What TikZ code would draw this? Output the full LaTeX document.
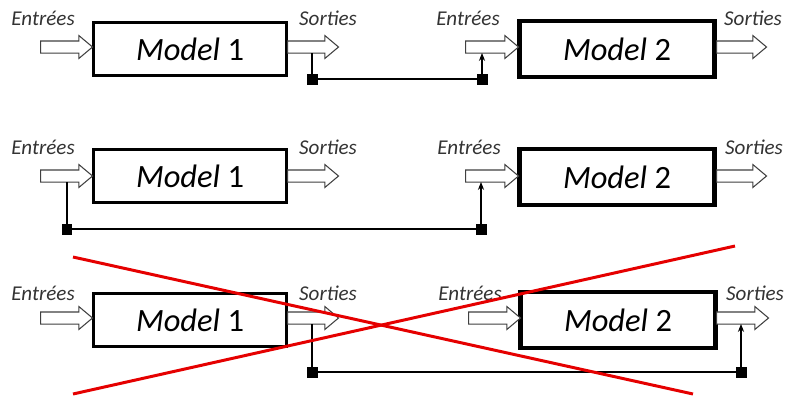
\documentclass[tikz,border=0pt]{standalone}
\usepackage{fontspec}
\setmainfont{Carlito}
\usetikzlibrary{shapes.arrows,arrows.meta}

\tikzset{
  modelbox/.style={draw, line width=1.9pt, minimum width=3.86cm, minimum height=1.06cm, inner sep=0pt,
    font=\fontsize{18.5}{21}\selectfont},
  modelboxb/.style={modelbox, line width=2.4pt, minimum width=3.9cm, minimum height=1.12cm},
  fatarrow/.style={single arrow, draw=black!75, fill=white, line width=0.6pt, minimum height=#1,
    inner xsep=0pt, inner ysep=0.11cm, single arrow head extend=0.11cm, single arrow tip angle=80,
    anchor=tail},
  lbl/.style={font=\fontsize{12}{14}\selectfont\itshape, text=black!80, inner sep=0pt},
  sq/.style={fill=black, minimum size=0.22cm, inner sep=0pt},
  link/.style={line width=0.6pt},
  uplink/.style={line width=0.6pt, -{Stealth[length=4.5pt,width=3.5pt]}}
}

\begin{document}
\begin{tikzpicture}[x=0.02cm, y=-0.02cm]
  \useasboundingbox (0,0) rectangle (785,397);

  % Row 1 : Sorties of model 1 go to Entrees of model 2
  \node[modelbox] (ma) at (190,49) {\textit{Model} 1};
  \node[modelboxb] (mb) at (617,49) {\textit{Model} 2};
  \node[fatarrow=1.04cm] (ina) at (40,47) {};
  \node[fatarrow=1.02cm] (outa) at (287,47) {};
  \node[fatarrow=1.06cm] (inb) at (465,47) {};
  \node[fatarrow=1.0cm] (outb) at (716,47) {};
  \node[lbl] (la1) at (43,18) {Entrées};
  \node[lbl] (la2) at (328,18) {Sorties};
  \node[lbl] (la3) at (468,18) {Entrées};
  \node[lbl] (la4) at (753,18) {Sorties};
  \coordinate (ba) at (312,53);
  \coordinate (ta) at (482,53);
  \node[sq] (sa) at (312,79) {};
  \node[sq] (sb) at (482,79) {};
  \draw[link] (ba) -- (sa.center) -- (sb.center);
  \draw[uplink] (sb.center) -- (ta);

  % Row 2 : Entrees of model 1 go to Entrees of model 2
  \node[modelbox] (mc) at (190,176) {\textit{Model} 1};
  \node[modelboxb] (md) at (617,177) {\textit{Model} 2};
  \node[fatarrow=1.04cm] (inc) at (40,176) {};
  \node[fatarrow=1.02cm] (outc) at (287,176) {};
  \node[fatarrow=1.06cm] (ind) at (465,176) {};
  \node[fatarrow=1.0cm] (outd) at (716,176) {};
  \node[lbl] (lc1) at (43,147) {Entrées};
  \node[lbl] (lc2) at (328,147) {Sorties};
  \node[lbl] (lc3) at (469,147) {Entrées};
  \node[lbl] (lc4) at (754,147) {Sorties};
  \coordinate (bc) at (67,182);
  \coordinate (tc) at (481,182);
  \node[sq] (sc) at (67,229) {};
  \node[sq] (sd) at (481,229) {};
  \draw[link] (bc) -- (sc.center) -- (sd.center);
  \draw[uplink] (sd.center) -- (tc);

  % Row 3 : Sorties of model 1 go to Sorties of model 2 (crossed out)
  \node[modelbox] (me) at (190,320) {\textit{Model} 1};
  \node[modelboxb] (mf) at (618,320) {\textit{Model} 2};
  \node[fatarrow=1.04cm] (ine) at (40,318) {};
  \node[fatarrow=1.02cm] (oute) at (287,318) {};
  \node[fatarrow=1.04cm] (inf) at (468,318) {};
  \node[fatarrow=1.04cm] (outf) at (716,318) {};
  \node[lbl] (le1) at (43,293) {Entrées};
  \node[lbl] (le2) at (328,293) {Sorties};
  \node[lbl] (le3) at (470,293) {Entrées};
  \node[lbl] (le4) at (755,293) {Sorties};
  \coordinate (be) at (312,324);
  \coordinate (tf) at (741,324);
  \node[sq] (se) at (312,372) {};
  \node[sq] (sf) at (741,372) {};
  \draw[link] (be) -- (se.center) -- (sf.center);
  \draw[uplink] (sf.center) -- (tf);

  % Red cross
  \draw[red!90!black, line width=1.7pt] (73,257) -- (693,394);
  \draw[red!90!black, line width=1.7pt] (73,394) -- (735,246);
\end{tikzpicture}
\end{document}
